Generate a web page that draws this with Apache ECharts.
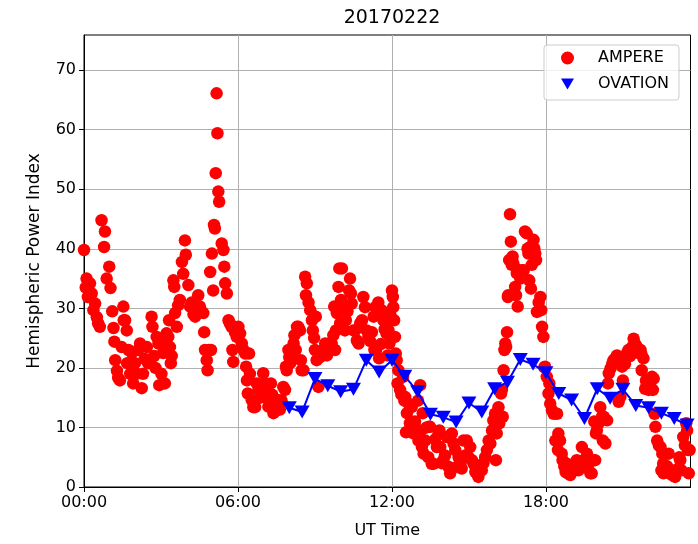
<!DOCTYPE html>
<html><head><meta charset="utf-8">
<script src="https://cdn.jsdelivr.net/npm/echarts@6/dist/echarts.min.js"></script>
<style>html,body{margin:0;padding:0;background:#fff}#c{width:698px;height:544px}</style>
</head><body><div id="c"></div>
<script>
const chartTitle = '20170222';
const xAxisName = 'UT Time';
const yAxisName = 'Hemispheric Power Index';
const xTickMinutes = [0, 360, 720, 1080];
const yTicks = [0, 10, 20, 30, 40, 50, 60, 70];
const xMaxMinutes = 1418;
const yMax = 75.9;

// AMPERE: [minutes since 00:00 UT, hemispheric power]
const ampere = [
[0,39.8],[4,33.5],[6,35],[9,31.9],[14,34.2],[18,32.5],[22,29.7],[26,30.8],[30,28.5],[33,27.5],[37,26.9],
[41,44.8],[47,40.3],[49,42.9],[53,35],[59,37],[62,33.4],[66,29.5],[69,26.7],[71,24.4],[73,21.3],[77,19.5],
[80,18.3],[84,17.9],[88,23.5],[92,30.3],[93,28],[96,28],[100,26.3],[101,20.8],[104,23],[108,19],[112,22.5],
[115,17.4],[119,20.8],[123,19],[127,23],[131,24.1],[135,16.6],[138,19],[142,21.5],[147,23.5],[150,20.8],
[154,21.3],[158,28.6],[160,26.9],[164,22],[167,20],[170,25.2],[174,24.1],[176,17.1],[178,24.1],[181,19],
[185,22.5],[189,17.4],[193,25.8],[197,25.2],[199,28],[201,23.5],[203,20.8],[205,22],[209,34.7],[211,33.6],
[213,29.2],[217,26.9],[220,30.5],[224,31.4],[229,37.8],[232,35.8],[236,41.4],[238,39],[244,33.9],[248,30.3],
[252,31],[256,29],[260,28.6],[264,30.5],[267,32.2],[271,30.3],[275,29.5],[279,29.2],[281,26],[283,23],
[287,21.3],[289,19.6],[292,23],[295,36.1],[297,23],[299,39.2],[302,33],[304,44],[306,43.4],[308,52.7],
[310,66.1],[312,59.4],[314,49.6],[316,47.9],[322,40.9],[326,39.8],[328,37],[330,34.2],[334,32.5],[338,28],
[341,27.5],[345,26.9],[347,23],[349,21],[353,26],[357,25.2],[361,26.9],[365,25.8],[369,24.1],[373,23],
[377,22.4],[379,20.2],[381,17.9],[383,15.7],[386,22.4],[388,19],[392,14.6],[396,13.4],[400,13.4],[404,17.4],
[408,16.3],[412,15],[415,16],[419,19.1],[421,15.1],[423,17.4],[427,16.5],[431,13.5],[435,14.6],[437,17.4],
[440,15.5],[443,12.4],[447,13.5],[451,12.9],[454,14.6],[458,13],[462,14.5],[466,16.8],[470,16.3],[472,20.2],
[474,19.6],[478,23],[480,21.8],[482,20.8],[486,22.5],[490,24.1],[492,25.5],[495,23],[498,26.9],[501,26.9],
[505,26.3],[507,21.3],[509,19.6],[513,19.6],[517,35.3],[519,32.2],[521,34.2],[525,31],[529,29.7],[533,28],
[535,26.3],[538,25],[540,23],[542,28.6],[544,21.3],[548,16.8],[552,21.8],[556,22.5],[560,23],[564,24.1],
[568,22.1],[571,23.5],[575,24.1],[579,24.1],[583,25.5],[585,30.3],[587,23],[589,26.3],[591,29.2],[595,33.6],
[597,36.7],[599,27.5],[601,31.4],[603,36.7],[606,30.2],[610,26.3],[612,28],[616,29.5],[620,33],[622,35],
[624,32.5],[626,30.8],[630,26.3],[634,26.3],[638,24.6],[642,24.1],[646,27.5],[650,28],[653,31.9],[657,30.2],
[661,26.3],[665,25.2],[669,24.5],[673,26],[677,28.6],[679,23],[681,30.2],[683,23],[688,31],[690,21.6],
[694,24],[696,29.7],[700,28],[703,26.5],[705,29.2],[707,25.8],[708,27.5],[710,22.1],[712,26.3],[714,24.1],
[716,29],[720,33],[722,31.9],[723,30.2],[725,28],[727,25.2],[729,22.4],[731,21.3],[733,17.4],[735,19.6],
[739,16.3],[742,15.5],[746,18.5],[749,14.5],[751,15.1],[753,9.2],[755,12.4],[759,14],[762,10.7],[766,13.4],
[770,9],[774,11],[778,9.5],[781,14.5],[782,7.8],[786,17.1],[788,9.5],[790,6.7],[792,12.4],[794,5.6],
[798,7.8],[801,10],[805,5],[807,10.1],[809,10.1],[813,3.9],[817,3.9],[821,8],[825,6.7],[829,9],[831,9.5],
[833,6.7],[836,4],[840,4.5],[844,5.3],[848,8.4],[852,3.4],[856,2.3],[860,9],[864,7.3],[868,6.2],[872,3.4],
[876,5],[880,4],[883,3.1],[887,7.8],[891,5.3],[895,7.8],[899,5],[903,6.7],[907,4.5],[911,3.9],[915,2.5],
[919,2.3],[922,1.7],[926,3],[930,2.8],[934,4],[938,5],[942,6.2],[946,7.8],[950,7.3],[954,9.5],[957,11.2],
[961,12.3],[963,4.5],[965,9],[969,13.4],[971,10.7],[975,15.7],[977,16.3],[979,11.8],[981,19.6],[983,23],
[985,24.1],[987,23.5],[989,26],[991,31.9],[992,32.2],[994,38.1],[996,45.8],[998,41.2],[1000,37.3],[1002,38.7],
[1004,37.5],[1008,33.6],[1010,32.2],[1012,35.9],[1014,30.3],[1016,36.4],[1020,35],[1024,36.4],[1028,36.4],
[1031,42.9],[1035,42.6],[1037,40],[1039,39.2],[1041,34.7],[1043,40.3],[1045,33.3],[1047,37.3],[1051,41.5],
[1053,40],[1055,39.2],[1057,38.1],[1059,29.4],[1063,31],[1067,31.9],[1069,29.7],[1071,26.9],[1074,25.2],
[1076,20.1],[1078,20.2],[1082,18.5],[1086,15.7],[1088,17.4],[1090,14],[1094,12.9],[1098,12.3],[1102,7.8],
[1106,12.3],[1108,6.2],[1109,9],[1113,7.8],[1117,5.6],[1119,4.5],[1123,3.5],[1126,2.5],[1129,3.9],[1131,2.3],
[1133,2.3],[1137,2],[1141,3.4],[1144,2.8],[1148,3.5],[1152,4.5],[1156,2.8],[1160,4],[1164,6.7],[1168,4.5],
[1172,3.4],[1176,5.6],[1180,3.9],[1184,2.3],[1187,2.3],[1191,4.5],[1193,11],[1195,4.5],[1197,9],[1199,9.5],
[1203,10.7],[1207,13.4],[1211,11.8],[1213,7.8],[1215,11.8],[1219,7.3],[1223,11.2],[1225,17.4],[1227,19.1],
[1231,19.9],[1235,20.7],[1238,21.3],[1242,21.6],[1246,22.1],[1250,14.3],[1254,15.1],[1258,20.2],[1260,17.9],
[1262,21.3],[1265,20.7],[1269,22.4],[1273,23],[1277,22],[1281,23.5],[1285,24.9],[1289,24],[1293,23.5],
[1297,22.5],[1301,23],[1303,22.4],[1304,19.6],[1308,21.6],[1312,16.5],[1314,17.9],[1316,17.6],[1320,16.3],
[1324,17],[1328,18.5],[1330,16.3],[1332,18.2],[1334,12.3],[1336,10.1],[1340,7.8],[1344,7],[1348,6.7],
[1350,2.8],[1352,5.6],[1354,3.9],[1355,2.3],[1359,2.5],[1363,3.5],[1367,5.6],[1369,2.3],[1371,2.8],[1375,2],
[1379,2.5],[1382,1.7],[1384,2.8],[1388,3],[1390,2.8],[1392,5],[1394,4.5],[1397,2.8],[1401,8.4],[1405,7],
[1408,10.7],[1410,9.5],[1412,6.2],[1414,2.3],[1416,6.2]
];

const ovationMinutes = [480,510,540,570,600,630,660,690,720,750,780,810,840,870,900,930,
  960,990,1020,1050,1080,1110,1140,1170,1200,1230,1260,1290,1320,1350,1380,1410];
const ovationValues = [13.3,12.6,18.2,17.0,16.0,16.4,21.3,19.3,21.3,18.6,16.0,12.2,11.7,10.9,14.1,12.6,
  16.5,17.6,21.4,20.6,19.2,15.7,14.6,11.5,16.5,14.9,16.4,13.7,13.3,12.4,11.5,10.4];

const FONT = 'DejaVu Sans';
function pad(n){ return (n < 10 ? '0' : '') + n; }
function fmtTime(v){ const m = Math.round(v); return pad(Math.floor(m/60)) + ':' + pad(m % 60); }

const chart = echarts.init(document.getElementById('c'), null, {renderer: 'canvas'});
chart.setOption({
  animation: false,
  backgroundColor: '#ffffff',
  title: {
    text: chartTitle, left: 387, top: 4, textAlign: 'center',
    textStyle: {fontFamily: FONT, fontSize: 19, fontWeight: 'normal', color: '#000'}
  },
  grid: {left: 84, top: 35, right: 7.5, bottom: 57, show: true, borderColor: '#000', borderWidth: 1, backgroundColor: 'transparent'},
  legend: {
    orient: 'vertical', left: 544, top: 45,
    padding: [5, 10, 8, 17], itemGap: 10, itemWidth: 13, itemHeight: 13,
    backgroundColor: 'rgba(255,255,255,0.8)', borderColor: '#cccccc', borderWidth: 1, borderRadius: 3,
    textStyle: {fontFamily: FONT, fontSize: 16, color: '#000', lineHeight: 16, padding: [0,0,0,19]},
    data: [
      {name: 'AMPERE', icon: 'circle'},
      {name: 'OVATION', icon: 'path://M0,0L2,0L1,1.73Z'}
    ]
  },
  xAxis: {
    type: 'value', min: 0, max: xMaxMinutes, interval: 360,
    name: xAxisName, nameLocation: 'middle', nameGap: 36,
    nameTextStyle: {fontFamily: FONT, fontSize: 16, color: '#000'},
    axisLine: {show: true, onZero: false, lineStyle: {color: '#000', width: 1}},
    axisTick: {show: true, inside: false, length: 5, lineStyle: {color: '#000'}, customValues: xTickMinutes},
    axisLabel: {fontFamily: FONT, fontSize: 16, color: '#000', margin: 8, customValues: xTickMinutes, formatter: fmtTime},
    splitLine: {show: true, lineStyle: {color: '#b0b0b0', width: 1}}
  },
  yAxis: {
    type: 'value', min: 0, max: yMax, interval: 10,
    name: yAxisName, nameLocation: 'middle', nameGap: 41, nameRotate: 90,
    nameTextStyle: {fontFamily: FONT, fontSize: 17, color: '#000'},
    axisLine: {show: true, onZero: false, lineStyle: {color: '#000', width: 1}},
    axisTick: {show: true, inside: false, length: 5, lineStyle: {color: '#000'}, customValues: yTicks},
    axisLabel: {fontFamily: FONT, fontSize: 16, color: '#000', margin: 8, customValues: yTicks},
    splitLine: {show: true, lineStyle: {color: '#b0b0b0', width: 1}}
  },
  series: [
    {
      name: 'AMPERE', type: 'scatter', data: ampere,
      symbol: 'circle', symbolSize: 12.5,
      itemStyle: {color: '#ff0000', opacity: 1}, z: 2, silent: true
    },
    {
      name: 'OVATION', type: 'line',
      data: ovationMinutes.map((m, i) => [m, ovationValues[i]]),
      symbol: 'triangle', symbolRotate: 180, symbolSize: [15, 13], showSymbol: true,
      lineStyle: {color: '#0000ff', width: 2},
      itemStyle: {color: '#0000ff', borderWidth: 0}, z: 3, silent: true
    }
  ]
});
</script>
</body></html>
